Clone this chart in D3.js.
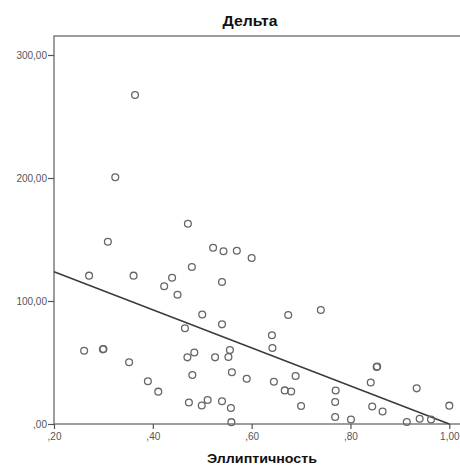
<!DOCTYPE html>
<html>
<head>
<meta charset="utf-8">
<script src="https://cdn.jsdelivr.net/npm/d3@7"></script>
<style>
  body { margin: 0; background: #fff; }
  svg { display: block; }
</style>
</head>
<body>
<svg id="chart" width="460" height="465"></svg>
<script>
// Эллиптичность (x) vs Дельта (y)
const ellipticity = [0.364, 0.324, 0.309, 0.271, 0.361, 0.471, 0.522, 0.543, 0.570, 0.600,
  0.479, 0.439, 0.423, 0.450, 0.540, 0.500, 0.674, 0.740, 0.540, 0.465,
  0.641, 0.642, 0.853, 0.854, 0.261, 0.299, 0.300, 0.352, 0.390, 0.411,
  0.470, 0.484, 0.526, 0.556, 0.553, 0.480, 0.560, 0.590, 0.473, 0.499,
  0.511, 0.540, 0.558, 0.559, 0.645, 0.689, 0.667, 0.680, 0.700, 0.770,
  0.769, 0.769, 0.801, 0.841, 0.844, 0.865, 0.914, 0.934, 0.940, 0.963, 1.000];
const delta = [267.5, 200.6, 148.2, 120.6, 120.6, 162.8, 143.3, 140.4, 140.9, 135.0,
  127.6, 118.9, 112.0, 105.1, 115.4, 89.0, 88.6, 92.7, 81.0, 77.8,
  72.1, 61.8, 46.3, 46.7, 59.6, 60.7, 61.0, 50.2, 34.7, 26.3,
  54.2, 58.1, 54.2, 60.2, 54.5, 39.8, 42.1, 36.8, 17.5, 15.0,
  19.5, 18.5, 13.0, 1.5, 34.4, 39.0, 27.3, 26.4, 14.6, 27.2,
  17.9, 5.7, 3.7, 33.7, 14.2, 10.2, 1.6, 29.0, 4.3, 3.7, 14.9];

// linear fit line end points
const fitX = [0.2, 1.0];
const fitY = [123.8, 0];

const xTicks = [0.2, 0.4, 0.6, 0.8, 1.0];
const xTickLabels = [',20', ',40', ',60', ',80', '1,00'];
const yTicks = [0, 100, 200, 300];
const yTickLabels = [',00', '100,00', '200,00', '300,00'];

const svg = d3.select('#chart');
const x = d3.scaleLinear().domain([0.2, 1.0]).range([54, 449.3]);
const y = d3.scaleLinear().domain([0, 300]).range([424, 55]);

const frameColor = '#858585';
const labelFont = 'Arial, "Liberation Sans", sans-serif';

// frame (right side runs off the picture)
svg.append('rect')
  .attr('x', 54).attr('y', 36)
  .attr('width', 420).attr('height', 424 - 36)
  .attr('fill', 'none').attr('stroke', frameColor).attr('stroke-width', 1.6);

const xAxis = d3.axisBottom(x).tickValues(xTicks)
  .tickFormat((d, i) => xTickLabels[i]).tickSize(5).tickPadding(4);
const yAxis = d3.axisLeft(y).tickValues(yTicks)
  .tickFormat((d, i) => yTickLabels[i]).tickSize(6).tickPadding(1);

const gx = svg.append('g').attr('transform', 'translate(0,424)').call(xAxis);
const gy = svg.append('g').attr('transform', 'translate(54,0)').call(yAxis);
[gx, gy].forEach(g => {
  g.select('.domain').remove();
  g.selectAll('line').attr('stroke', '#555').attr('stroke-width', 1.2);
  g.selectAll('text').attr('fill', '#555').style('font-family', labelFont).style('font-size', '10px');
});

// fit line
svg.append('line')
  .attr('x1', x(fitX[0])).attr('y1', y(fitY[0]))
  .attr('x2', x(fitX[1])).attr('y2', y(fitY[1]))
  .attr('stroke', '#3a3a3a').attr('stroke-width', 1.4);

svg.append('g').selectAll('circle')
  .data(d3.zip(ellipticity, delta))
  .enter().append('circle')
  .attr('cx', d => x(d[0])).attr('cy', d => y(d[1]))
  .attr('r', 3.4)
  .attr('fill', 'none').attr('stroke', '#666').attr('stroke-width', 1.3);

svg.append('text')
  .attr('x', 250).attr('y', 26)
  .attr('text-anchor', 'middle')
  .attr('textLength', 55).attr('lengthAdjust', 'spacingAndGlyphs')
  .style('font-family', labelFont).style('font-weight', 'bold').style('font-size', '14px')
  .attr('fill', '#111')
  .text('Дельта');

svg.append('text')
  .attr('x', 262).attr('y', 463)
  .attr('text-anchor', 'middle')
  .attr('textLength', 110).attr('lengthAdjust', 'spacingAndGlyphs')
  .style('font-family', labelFont).style('font-weight', 'bold').style('font-size', '12px')
  .attr('fill', '#111')
  .text('Эллиптичность');
</script>
</body>
</html>
